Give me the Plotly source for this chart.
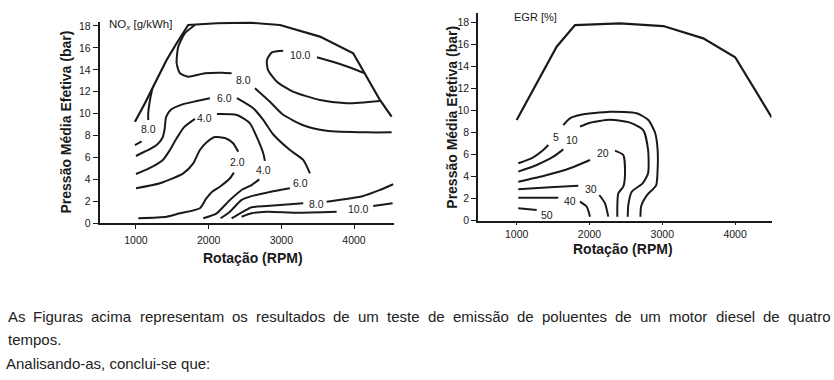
import plotly.graph_objects as go

# ---------------- data (RPM, bar) ----------------
# Left chart: NOx [g/kWh]
NOX_ENV_RPM = [986, 1124, 1261, 1422, 1560, 1719, 2110, 2568, 2981, 3531, 3989, 4150, 4356, 4517]
NOX_ENV_BAR = [9.27, 10.95, 12.77, 14.90, 16.42, 18.09, 18.25, 18.30, 18.09, 17.03, 15.51, 13.69, 11.25, 9.73]

NOX10_HI_RPM = [4150, 3806, 3490, None, 3026, 2871, 2802, 2816, 2939, 3160, 3531, 3902, 4356]
NOX10_HI_BAR = [13.69, 14.53, 15.15, None, 15.75, 15.60, 14.90, 13.99, 12.92, 12.01, 11.25, 10.95, 11.16]

NOX10_LO_RPM = [2454, 2591, 2798, 3210, 3761, None, 4264, 4531]
NOX10_LO_BAR = [0.60, 0.91, 1.06, 0.97, 1.06, None, 1.58, 1.82]

NOX8_HI_RPM = [1812, 1674, 1582, 1560, 1605, 1719, 1949, 2179, 2316, None, 2637, 2843, 3026, 3301, 3623, 4173, 4517]
NOX8_HI_BAR = [18.09, 17.34, 16.11, 14.60, 13.69, 13.38, 13.69, 13.74, 13.69, None, 12.32, 11.09, 9.90, 8.95, 8.45, 8.30, 8.30]

NOX8_LEFT_RPM = [1225, 1193, 1169, 1169, None, 1078, 986]
NOX8_LEFT_BAR = [12.30, 11.25, 10.04, 9.43, None, 7.48, 7.14]

NOX8_LO_RPM = [2316, 2476, 2591, 2798, 3301, None, 3623, 4127, 4356, 4539]
NOX8_LO_BAR = [0.46, 1.06, 1.46, 1.58, 1.82, None, 1.97, 2.49, 3.04, 3.56]

NOX6_RPM = [1000, 1147, 1285, 1365, 1395, 1415, 1480, 1640, 1835, 2018, None,
            2389, 2614, 2751, 2889, 3118, 3301, 3393, None,
            3118, 2798, 2568, 2454, 2293, 2165]
NOX6_BAR = [6.14, 6.62, 7.14, 7.80, 8.60, 9.70, 10.35, 10.85, 11.15, 11.41, None,
            11.41, 10.49, 9.43, 8.10, 6.69, 5.78, 4.56, None,
            3.19, 2.79, 2.43, 2.13, 1.06, 0.46]

NOX4_RPM = [1000, 1193, 1371, 1468, 1560, 1660, 1812, None,
            2114, 2389, 2568, 2660, 2751, 2774, None,
            2696, 2591, 2454, 2293, 2110, 1926]
NOX4_BAR = [4.50, 5.05, 5.78, 6.69, 7.75, 8.75, 9.52, None,
            9.97, 9.88, 9.12, 7.90, 6.39, 5.70, None,
            4.01, 3.49, 3.04, 2.13, 0.91, 0.46]

NOX2_RPM = [1000, 1330, 1651, 1788, 1880, 1977, 2087, 2224, 2334, 2407, None,
            2348, 2293, 2155, 2045, 1963, 1880, 1605, 1422, 1032]
NOX2_BAR = [3.19, 3.65, 4.56, 5.47, 6.69, 7.42, 7.87, 7.78, 7.33, 6.53, None,
            4.62, 4.11, 3.34, 2.86, 2.22, 1.37, 0.91, 0.60, 0.46]

NOX_LABELS = ["10.0", "8.0", "6.0", "4.0", "8.0", "2.0", "4.0", "6.0", "8.0", "10.0"]
NOX_LABEL_RPM = [3270, 2480, 2215, 1949, 1169, 2400, 2751, 3270, 3480, 4058]
NOX_LABEL_BAR = [15.35, 13.05, 11.47, 9.63, 8.58, 5.57, 4.86, 3.68, 1.80, 1.32]

# Right chart: EGR [%]
EGR_ENV_RPM = [1000, 1549, 1801, 2419, 3014, 3335, 3563, 4001, 4503]
EGR_ENV_BAR = [9.14, 15.80, 17.77, 17.93, 17.68, 17.00, 16.56, 14.84, 9.38]

EGR5_RPM = [1022, 1228, 1365, 1434, None, 1640, 1732, 1869, 2282, 2648, 2808, 2900, 2935, 2935, 2915, 2790, 2710, 2700]
EGR5_BAR = [5.20, 5.75, 6.41, 6.86, None, 8.68, 9.29, 9.59, 9.89, 9.75, 9.14, 8.00, 6.50, 4.50, 3.20, 2.30, 1.30, 0.35]

EGR10_RPM = [1022, 1275, 1503, 1640, None, 1869, 2007, 2282, 2556, 2740, 2805, 2805, 2730, 2580, 2533, 2525]
EGR10_BAR = [4.44, 5.05, 5.80, 6.47, None, 8.53, 8.89, 9.15, 8.90, 8.20, 6.40, 4.30, 3.38, 2.62, 1.40, 0.35]

EGR20_RPM = [1022, 1365, 1732, 2007, None, 2350, 2464, 2488, 2464, 2396, 2382]
EGR20_BAR = [3.53, 4.05, 4.75, 5.50, None, 6.35, 5.95, 4.29, 3.07, 2.47, 0.35]

EGR30_RPM = [1022, 1457, 1846, None, 2135, 2213, 2258]
EGR30_BAR = [2.84, 3.02, 3.16, None, 2.32, 1.56, 0.35]

EGR40_RPM = [1022, 1571, None, 1869, 1962, 2007]
EGR40_BAR = [2.07, 2.07, None, 1.71, 1.25, 0.35]

EGR50_RPM = [1022, 1275]
EGR50_BAR = [1.11, 0.95]

EGR_LABELS = ["5", "10", "20", "30", "40", "50"]
EGR_LABEL_RPM = [1536, 1755, 2190, 2021, 1732, 1412]
EGR_LABEL_BAR = [7.62, 7.32, 6.16, 2.84, 1.77, 0.50]

X_TICKS = [1000, 2000, 3000, 4000]
Y_TICKS = [0, 2, 4, 6, 8, 10, 12, 14, 16, 18]

PARA_LINE1 = "As Figuras acima representam os resultados de um teste de emissão de poluentes de um motor diesel de quatro"
PARA_LINE2 = "tempos."
PARA_LINE3 = "Analisando-as, conclui-se que:"

# ---------------- figure ----------------
W, H = 834, 380
FONT = "Liberation Sans, Arial, Helvetica, sans-serif"
INK = "#1a1a1a"


def fx(p):
    return p / W


def fy(p):
    return 1 - p / H


fig = go.Figure()


def add_line(xs, ys, ax, smooth=True, width=2.0):
    fig.add_trace(go.Scatter(
        x=xs, y=ys, mode="lines", xaxis="x" + ax, yaxis="y" + ax,
        line=dict(color=INK, width=width, shape="spline" if smooth else "linear", smoothing=0.6),
        connectgaps=False, hoverinfo="skip", showlegend=False))


add_line(NOX_ENV_RPM, NOX_ENV_BAR, "", smooth=False, width=2.2)
for xs, ys in [(NOX10_HI_RPM, NOX10_HI_BAR), (NOX10_LO_RPM, NOX10_LO_BAR),
               (NOX8_HI_RPM, NOX8_HI_BAR), (NOX8_LEFT_RPM, NOX8_LEFT_BAR),
               (NOX8_LO_RPM, NOX8_LO_BAR), (NOX6_RPM, NOX6_BAR),
               (NOX4_RPM, NOX4_BAR), (NOX2_RPM, NOX2_BAR)]:
    add_line(xs, ys, "")

add_line(EGR_ENV_RPM, EGR_ENV_BAR, "2", smooth=False, width=2.2)
for xs, ys in [(EGR5_RPM, EGR5_BAR), (EGR10_RPM, EGR10_BAR), (EGR20_RPM, EGR20_BAR),
               (EGR30_RPM, EGR30_BAR), (EGR40_RPM, EGR40_BAR), (EGR50_RPM, EGR50_BAR)]:
    add_line(xs, ys, "2")

annotations = []
for t, x, y in zip(NOX_LABELS, NOX_LABEL_RPM, NOX_LABEL_BAR):
    annotations.append(dict(text=t, x=x, y=y, xref="x", yref="y", showarrow=False,
                            font=dict(family=FONT, size=10.5, color=INK), borderpad=0))
for t, x, y in zip(EGR_LABELS, EGR_LABEL_RPM, EGR_LABEL_BAR):
    annotations.append(dict(text=t, x=x, y=y, xref="x2", yref="y2", showarrow=False,
                            font=dict(family=FONT, size=10.5, color=INK), borderpad=0))

# panel headers
annotations.append(dict(text="NO<sub><i>x</i></sub> [g/kWh]", x=fx(108), y=fy(25), xref="paper", yref="paper",
                        xanchor="left", yanchor="middle", showarrow=False, borderpad=0,
                        font=dict(family=FONT, size=11.5, color=INK)))
annotations.append(dict(text="EGR [%]", x=fx(513), y=fy(16.7), xref="paper", yref="paper",
                        xanchor="left", yanchor="middle", showarrow=False, borderpad=0,
                        font=dict(family=FONT, size=11, color=INK)))

# axis titles
TITLE_FONT = dict(family=FONT, size=14, color=INK)
for x, y in [(65, 122.5), (452, 116.7)]:
    annotations.append(dict(text="<b>Pressão Média Efetiva (bar)</b>", x=fx(x), y=fy(y), xref="paper",
                            yref="paper", textangle=-90, showarrow=False, font=TITLE_FONT,
                            xanchor="center", yanchor="middle"))
for x, y in [(253.3, 257.5), (623.3, 249)]:
    annotations.append(dict(text="<b>Rotação (RPM)</b>", x=fx(x), y=fy(y), xref="paper",
                            yref="paper", showarrow=False, font=TITLE_FONT, borderpad=0,
                            xanchor="center", yanchor="middle"))

# paragraph (first line justified, Arial metrics)
AW = {' ': 278, 'A': 667, 'F': 611, 'a': 556, 'b': 556, 'c': 500, 'd': 556, 'e': 556, 'f': 278,
      'g': 556, 'h': 556, 'i': 222, 'l': 222, 'm': 833, 'n': 556, 'o': 556, 'p': 556, 'q': 556,
      'r': 333, 's': 500, 't': 278, 'u': 556, 'v': 500, 'ã': 556, '.': 278, ',': 278, '-': 333, ':': 278}
PSIZE = 15
PFONT = dict(family=FONT, size=PSIZE, color="#222222")


def tw(s):
    return sum(AW.get(c, 556) for c in s) / 1000.0 * PSIZE


words = PARA_LINE1.split(" ")
left, right = 6.5, 829.5
gap = (right - left - sum(tw(w) for w in words)) / (len(words) - 1)
xpos = left
for w in words:
    annotations.append(dict(text=w, x=fx(xpos), y=fy(316), xref="paper", yref="paper",
                            xanchor="left", yanchor="middle", showarrow=False, borderpad=0, font=PFONT))
    xpos += tw(w) + gap
annotations.append(dict(text=PARA_LINE2, x=fx(6.5), y=fy(339), xref="paper", yref="paper",
                        xanchor="left", yanchor="middle", showarrow=False, borderpad=0, font=PFONT))
annotations.append(dict(text=PARA_LINE3, x=fx(5), y=fy(363), xref="paper", yref="paper",
                        xanchor="left", yanchor="middle", showarrow=False, borderpad=0, font=PFONT))

axis_common = dict(showline=True, linecolor=INK, linewidth=1.6, showgrid=False, zeroline=False,
                   ticks="outside", tickcolor=INK, tickwidth=1.2,
                   tickfont=dict(family=FONT, size=10.5, color=INK), fixedrange=True, mirror=False)

fig.update_layout(
    width=W, height=H,
    margin=dict(l=0, r=0, t=0, b=0, autoexpand=False),
    paper_bgcolor="white", plot_bgcolor="white",
    showlegend=False,
    xaxis=dict(domain=[fx(99.6), fx(394)], range=[500, 4550], tickvals=X_TICKS, ticklen=4,
               anchor="y", ticklabelstandoff=2, **axis_common),
    yaxis=dict(domain=[fy(223.3), fy(21.6)], range=[0, 18.4], tickvals=Y_TICKS, ticklen=5,
               anchor="x", **axis_common),
    xaxis2=dict(domain=[fx(478.1), fx(771.5)], range=[470, 4500], tickvals=X_TICKS, ticklen=3,
                anchor="y2", **axis_common),
    yaxis2=dict(domain=[fy(220.5), fy(13.3)], range=[0, 18.84], tickvals=Y_TICKS, ticklen=5,
                anchor="x2", **axis_common),
    annotations=annotations,
)

fig.write_html("out.html", config={"displayModeBar": False},
               post_script="document.body.style.margin='0';document.body.style.overflow='hidden';")
